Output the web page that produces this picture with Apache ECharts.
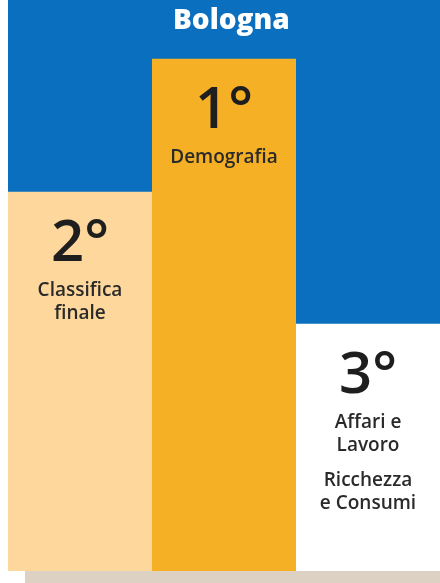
<!DOCTYPE html>
<html>
<head>
<meta charset="utf-8">
<script src="https://cdn.jsdelivr.net/npm/echarts@6/dist/echarts.min.js"></script>
<style>
  html, body { margin: 0; padding: 0; background: #fff; }
  #chart { width: 440px; height: 583px; }
</style>
</head>
<body>
<div id="chart"></div>
<script>
// podio: posizione di Bologna nelle classifiche
const cityName = 'Bologna'
const categories = ['Classifica finale', 'Demografia', 'Affari e Lavoro / Ricchezza e Consumi']
const ranks = ['2°', '1°', '3°']
const podiumHeights = [66.4, 89.7, 43.3]
const labelLines = [
  ['Classifica', 'finale'],
  ['Demografia'],
  ['Affari e', 'Lavoro', null, 'Ricchezza', 'e Consumi'],
]

const barColors = ['#fdd79b', '#f6b025', '#ffffff']
const FONT = '"Open Sans", sans-serif'

const chart = echarts.init(document.getElementById('chart'))

const buildLabel = (i) => {
  const lines = labelLines[i].map((l) => (l === null ? '{gap| }' : `{name|${l}}`))
  return `{rank|${ranks[i]}}\n` + lines.join('\n')
}

chart.setOption({
  backgroundColor: '#ffffff',
  animation: false,
  title: {
    text: cityName,
    left: 168,
    top: 2,
    textStyle: { color: '#fff', fontSize: 28, fontWeight: 800, fontFamily: FONT },
  },
  // larghezza 432 -> 144px per colonna, bordi su pixel interi
  grid: {
    left: 8, right: 0, top: 0, bottom: 12,
    show: true, backgroundColor: '#0a6fbe', borderWidth: 0,
  },
  xAxis: {
    type: 'category',
    data: categories,
    axisLine: { show: false },
    axisTick: { show: false },
    axisLabel: { show: false },
  },
  yAxis: {
    type: 'value',
    min: 0,
    max: 100,
    show: false,
    splitLine: { show: false },
  },
  graphic: [
    { type: 'rect', shape: { x: 25, y: 571, width: 415, height: 12 }, style: { fill: '#ddd1c4' } },
  ],
  series: [
    {
      type: 'bar',
      barWidth: '100%',
      barCategoryGap: 0,
      data: podiumHeights.map((v, i) => ({
        value: v,
        itemStyle: { color: barColors[i] },
        label: { formatter: buildLabel(i) },
      })),
      label: {
        show: true,
        position: 'insideTop',
        distance: 19,
        align: 'center',
        rich: {
          rank: { fontSize: 58, fontWeight: 600, color: '#1e1e1e', fontFamily: FONT, lineHeight: 68, align: 'center' },
          name: { fontSize: 19, fontWeight: 600, color: '#2a2a2a', fontFamily: FONT, lineHeight: 23, align: 'center' },
          gap: { fontSize: 10, lineHeight: 12 },
        },
      },
    },
  ],
})
</script>
</body>
</html>
